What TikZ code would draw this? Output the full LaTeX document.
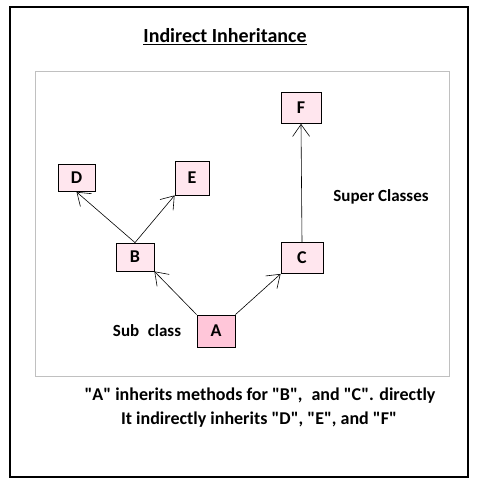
\documentclass[tikz,border=0pt]{standalone}
\usepackage{fontspec}
\setmainfont{Carlito}[Ligatures=TeXOff]
\usetikzlibrary{arrows.meta}

\definecolor{boxpink}{HTML}{FFE6EE}
\definecolor{apink}{HTML}{FFC6D9}
\definecolor{framegray}{HTML}{C0C0C0}

\tikzset{
  classbox/.style={draw=black,line width=0.8pt,fill=boxpink,font=\fontsize{18}{20}\selectfont\bfseries},
  inherit/.style={-{Straight Barb[length=12pt,width=17pt]},line width=0.6pt},
  label/.style={font=\fontsize{17}{20}\selectfont\bfseries}
}

\begin{document}
\begin{tikzpicture}[x=1pt,y=-1pt]

\useasboundingbox (0,0) rectangle (476,486);

\draw[line width=1.2pt] (10,7) rectangle (468,477);
\draw[framegray,line width=0.8pt] (35,71) rectangle (449,376);

\node[font=\fontsize{20}{24}\selectfont\bfseries] (title) at (225,37) {\underline{Indirect Inheritance}};

\node[classbox,minimum width=40pt,minimum height=31pt] (F) at (301,108) {F};
\node[classbox,minimum width=37pt,minimum height=27pt] (D) at (76.5,178) {D};
\node[classbox,minimum width=34pt,minimum height=34pt] (E) at (192,178) {E};
\node[classbox,minimum width=38pt,minimum height=28pt] (B) at (135,257) {B};
\node[classbox,minimum width=42pt,minimum height=31pt] (C) at (302,258) {C};
\node[classbox,fill=apink,minimum width=38pt,minimum height=32pt] (A) at (216,331) {A};

\draw[inherit] (A.north west)--(B.south east);
\draw[inherit] (A.north east)--(C.south west);
\draw[inherit] (C.north)--(F.south);
\draw[inherit] (B.north)--(D.south);
\draw[inherit] (B.north)--(E.south west);

\node[label] (super) at (381,197) {Super Classes};
\node[label] (sub) at (147,331) {Sub\enspace class};

\node[label,font=\fontsize{18}{22}\selectfont\bfseries] (note1) at (260,396) {"A" inherits methods for "B",\enspace and "C". directly};
\node[label,font=\fontsize{18}{22}\selectfont\bfseries] (note2) at (259,420) {It indirectly inherits "D", "E", and "F"};

\end{tikzpicture}
\end{document}
